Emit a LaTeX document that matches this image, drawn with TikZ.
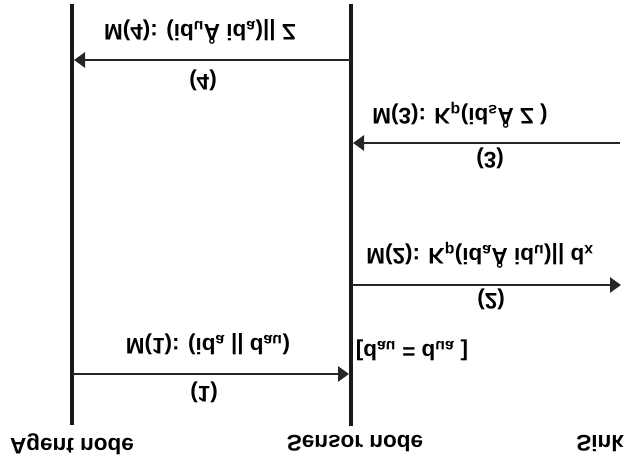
\documentclass[tikz,border=0pt]{standalone}
\usepackage{graphicx}
\usepackage{fontspec}
\setmainfont{Liberation Sans}
\usetikzlibrary{arrows.meta}

% the whole picture is printed upside down, so every text is mirrored
\newcommand{\flip}[1]{\scalebox{1}[-1]{#1}}

\begin{document}
\begin{tikzpicture}[x=1pt,y=-1pt,
		life/.style={line width=4.5pt,color=black!90},
		msg/.style={line width=2.6pt,color=black!85,-{Triangle[length=11pt,width=15pt]}},
		lbl/.style={font=\fontsize{22.5}{27}\selectfont\bfseries,inner sep=0pt}]
			\useasboundingbox (0,0) rectangle (639,462);
			
			\coordinate (agentTop) at (72,4);
			\coordinate (agentBot) at (72,425);
			\coordinate (sensorTop) at (351,4);
			\coordinate (sensorBot) at (351,426);
			
			\draw[life] (agentTop)--(agentBot);
			\draw[life] (sensorTop)--(sensorBot);
			
			\coordinate (s1) at (349,374);
			\coordinate (a1) at (72,374);
			\coordinate (s2) at (351,285);
			\coordinate (k2) at (621,285);
			\coordinate (k3) at (620,143);
			\coordinate (s3) at (353,143);
			\coordinate (s4) at (351,60);
			\coordinate (a4) at (74,60);
			
			\draw[msg] (a1)--(s1);
			\draw[msg] (s2)--(k2);
			\draw[msg] (k3)--(s3);
			\draw[msg] (s4)--(a4);
			
			\node[lbl] (m1) at (208,344) {\flip{M(1): (id\textsubscript{a} || d\textsubscript{au})}};
			\node[lbl] (n1) at (204,392) {\flip{(1)}};
			\node[lbl] (chk) at (412,350) {\flip{[d\textsubscript{au} = d\textsubscript{ua} ]}};
			\node[lbl] (m2) at (480,255) {\flip{M(2): K\textsubscript{p}(id\textsubscript{a}Å id\textsubscript{u})|| d\textsubscript{x}}};
			\node[lbl] (n2) at (491,299) {\flip{(2)}};
			\node[lbl] (m3) at (460,115) {\flip{M(3): K\textsubscript{p}(id\textsubscript{s}Å Z )}};
			\node[lbl] (n3) at (490,158) {\flip{(3)}};
			\node[lbl] (m4) at (200,32) {\flip{M(4): (id\textsubscript{u}Å id\textsubscript{a})|| Z}};
			\node[lbl] (n4) at (203,80) {\flip{(4)}};
			
			\node[lbl] (agent) at (72,444) {\flip{Agent node}};
			\node[lbl] (sensor) at (355,444) {\flip{Sensor node}};
			\node[lbl] (sink) at (600,444) {\flip{Sink}};
		\end{tikzpicture}
\end{document}
